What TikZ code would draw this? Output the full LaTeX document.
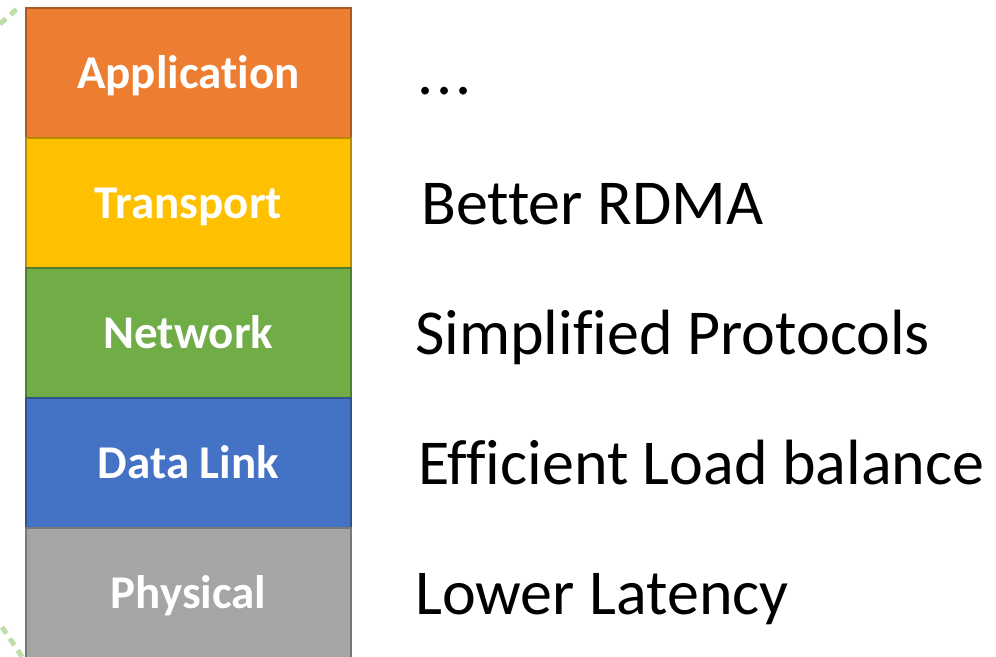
\documentclass[tikz,border=0pt]{standalone}
\usepackage{fontspec}
\setmainfont{Carlito}[Ligatures=NoCommon]
\usepackage{tikz}
\usetikzlibrary{positioning}
\definecolor{apporange}{RGB}{237,125,49}
\definecolor{trgold}{RGB}{255,192,0}
\definecolor{netgreen}{RGB}{112,173,71}
\definecolor{linkblue}{RGB}{68,114,196}
\definecolor{phygray}{RGB}{165,165,165}
\definecolor{dashgreen}{RGB}{190,222,170}
\tikzset{
  layer/.style={draw=#1!72!black,fill=#1,line width=2pt,outer sep=0pt,minimum width=325pt,minimum height=130pt,
    text=white,font=\fontsize{47}{50}\selectfont\bfseries,text height=30pt,text depth=0pt},
  note/.style={inner sep=0pt,font=\fontsize{64}{70}\selectfont,text height=42pt,text depth=0pt}
}

\begin{document}
\begin{tikzpicture}[x=1pt,y=1pt]
\useasboundingbox (0,0) rectangle (996,-656);
\clip (0,0) rectangle (996,-656);
\draw[dashgreen,line width=5pt,dash pattern=on 8pt off 6pt](0,-24)--(18,-8);
\draw[dashgreen,line width=5pt,dash pattern=on 8pt off 6pt](2,-627)--(23,-658);
\node[layer=apporange] (app) at (188.5,-73) {Application};
\node[layer=trgold,below=0pt of app] (trans) {Transport};
\node[layer=netgreen,below=0pt of trans] (net) {Network};
\node[layer=linkblue,below=0pt of net] (link) {Data Link};
\node[layer=phygray,below=0pt of link] (phys) {Physical};
\node[note,right=66pt of app] (apptxt) {.\kern3pt.\kern3pt.};
\node[note,right=70pt of trans] (transtxt) {Better RDMA};
\node[note,right=64pt of net] (nettxt) {Simplified Protocols};
\node[note,right=67pt of link] (linktxt) {Efficient Load balance};
\node[note,right=64pt of phys] (phystxt) {Lower Latency};
\end{tikzpicture}
\end{document}
